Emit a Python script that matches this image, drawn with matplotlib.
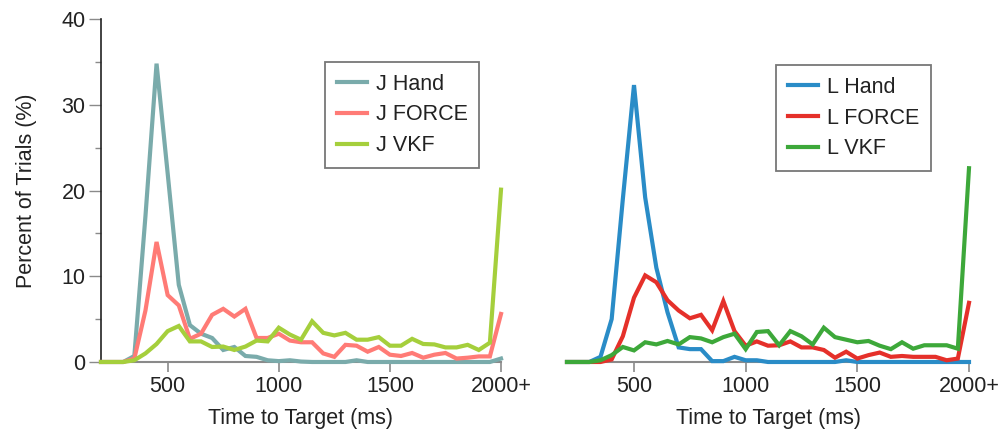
import matplotlib
matplotlib.use("Agg")
import matplotlib.pyplot as plt
from matplotlib.ticker import MultipleLocator

plt.rcParams['font.family'] = ['Liberation Sans', 'DejaVu Sans']

time_bins = list(range(200, 2001, 50))

j_hand = [0, 0, 0, 0.7, 17.0, 34.8, 22.0, 9.0, 4.3, 3.3, 2.8, 1.4, 1.75, 0.7, 0.6, 0.2,
          0.1, 0.2, 0.05, 0, 0, 0, 0, 0.2, 0, 0, 0, 0, 0, 0, 0, 0, 0, 0, 0, 0, 0.4]
j_force = [0, 0, 0, 0.4, 6.0, 14.0, 7.8, 6.6, 2.7, 3.3, 5.5, 6.2, 5.3, 6.2, 2.8, 2.8,
           3.3, 2.5, 2.3, 2.3, 1.0, 0.6, 2.0, 1.9, 1.2, 1.75, 0.85, 0.7, 1.05, 0.5, 0.85,
           1.05, 0.4, 0.5, 0.65, 0.65, 5.6]
j_vkf = [0, 0, 0, 0.2, 1.0, 2.1, 3.6, 4.2, 2.4, 2.4, 1.75, 1.8, 1.4, 1.8, 2.5, 2.4,
         4.0, 3.2, 2.6, 4.75, 3.4, 3.1, 3.4, 2.6, 2.6, 2.9, 1.9, 1.9, 2.7, 2.1, 2.05,
         1.7, 1.7, 2.0, 1.4, 2.25, 20.1]

l_hand = [0, 0, 0, 0.6, 5.0, 19.0, 32.3, 19.2, 11.0, 5.8, 1.7, 1.5, 1.5, 0.1, 0.1, 0.6,
          0.2, 0.2, 0, 0, 0, 0, 0, 0, 0, 0.2, 0, 0, 0, 0, 0, 0, 0, 0, 0, 0, 0]
l_force = [0, 0, 0, 0, 0.3, 3.0, 7.5, 10.1, 9.3, 7.2, 6.0, 5.1, 5.5, 3.7, 7.1, 3.6,
           1.9, 2.4, 1.9, 1.95, 2.4, 1.7, 1.7, 1.4, 0.5, 1.2, 0.4, 0.8, 1.1, 0.6, 0.7,
           0.6, 0.6, 0.6, 0.2, 0.4, 6.9]
l_vkf = [0, 0, 0, 0.2, 0.8, 1.75, 1.35, 2.3, 2.05, 2.45, 2.05, 2.9, 2.75, 2.3, 2.9, 3.3,
         1.5, 3.5, 3.6, 1.95, 3.6, 3.0, 2.05, 4.0, 2.9, 2.6, 2.3, 2.45, 1.9, 1.5, 2.3,
         1.55, 1.95, 1.95, 1.95, 1.55, 22.6]

x_ticks = [500, 1000, 1500, 2000]
x_tick_labels = ["500", "1000", "1500", "2000+"]
y_ticks = [0, 10, 20, 30, 40]

left_series = [("J Hand", j_hand, "#7aabab"),
               ("J FORCE", j_force, "#ff7b76"),
               ("J VKF", j_vkf, "#a5cf3c")]
right_series = [("L Hand", l_hand, "#2a8cc7"),
                ("L FORCE", l_force, "#e5302a"),
                ("L VKF", l_vkf, "#3da83a")]

FS = 15.5
fig = plt.figure(figsize=(10, 4.33), dpi=100)
ax1 = fig.add_axes([0.101, 0.164, 0.400, 0.792])
ax2 = fig.add_axes([0.567, 0.164, 0.402, 0.792])

text_color = "#222222"
for ax, series, show_y, leg_anchor in [(ax1, left_series, True, (0.56, 0.875)),
                                       (ax2, right_series, False, (0.52, 0.866))]:
    for name, vals, col in series:
        ax.plot(time_bins, vals, color=col, lw=3.0, label=name, clip_on=False,
                zorder=3, solid_joinstyle='miter')
    ax.set_xlim(200, 2000)
    ax.set_ylim(0, 40)
    ax.set_xticks(x_ticks)
    ax.set_xticklabels(x_tick_labels)
    ax.spines['top'].set_visible(False)
    ax.spines['right'].set_visible(False)
    ax.spines['bottom'].set_color("#8a8a8a")
    ax.spines['bottom'].set_linewidth(1.5)
    ax.tick_params(axis='x', direction='out', length=7, width=1.2, color="#8a8a8a",
                   labelsize=FS, labelcolor=text_color, pad=3)
    ax.set_xlabel("Time to Target (ms)", fontsize=FS, color=text_color, labelpad=8)
    if show_y:
        ax.spines['left'].set_color("#222222")
        ax.spines['left'].set_linewidth(1.2)
        ax.set_yticks(y_ticks)
        ax.yaxis.set_minor_locator(MultipleLocator(5))
        ax.tick_params(axis='y', which='major', direction='out', length=9, width=1.0,
                       color="#8a8a8a", labelsize=FS, labelcolor=text_color, pad=2)
        ax.tick_params(axis='y', which='minor', direction='out', length=4, width=1.0,
                       color="#8a8a8a")
        ax.set_ylabel("Percent of Trials (%)", fontsize=FS, color=text_color, labelpad=18)
    else:
        ax.spines['left'].set_visible(False)
        ax.set_yticks([])
    leg = ax.legend(loc='upper left', bbox_to_anchor=leg_anchor, fontsize=FS,
                    frameon=True, fancybox=False, handlelength=1.4,
                    handletextpad=0.4, labelspacing=0.45, borderpad=0.55,
                    borderaxespad=0)
    leg.get_frame().set_edgecolor("#555555")
    leg.get_frame().set_linewidth(1.3)
    for t in leg.get_texts():
        t.set_color(text_color)
    for l in leg.get_lines():
        l.set_linewidth(3.0)

fig.savefig("out.png", dpi=100)
